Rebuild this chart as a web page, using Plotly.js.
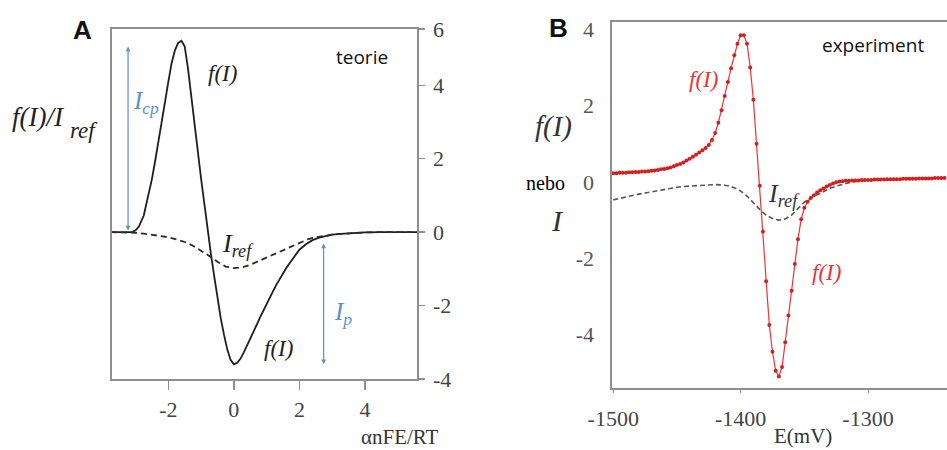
<!DOCTYPE html>
<html>
<head>
<meta charset="utf-8">
<script src="https://cdn.plot.ly/plotly-3.0.1.min.js"></script>
<style>html,body{margin:0;padding:0;background:#fff;overflow:hidden}#chart{width:947px;height:450px}</style>
</head>
<body>
<div id="chart"></div>
<script>
// ---------- Panel A (teorie) ----------
var xA = [-3.75,-3.5,-3.25,-3.1,-3.0,-2.9,-2.75,-2.65,-2.5,-2.4,-2.25,-2.1,-2.0,-1.9,-1.8,-1.7,-1.6,-1.5,-1.4,-1.3,-1.2,-1.1,-1.0,-0.9,-0.8,-0.7,-0.6,-0.5,-0.4,-0.3,-0.2,-0.1,0,0.1,0.2,0.3,0.4,0.5,0.6,0.7,0.8,0.9,1.0,1.1,1.2,1.3,1.4,1.5,1.6,1.7,1.8,1.9,2.0,2.2,2.4,2.6,2.8,3.0,3.25,3.5,3.75,4.0,4.5,5.0,5.75];
var fA = [0,0,0,0,0.05,0.15,0.45,0.85,1.45,1.95,2.7,3.55,4.1,4.6,4.95,5.15,5.21,5.05,4.45,3.65,2.9,2.2,1.45,0.72,0.0,-0.6,-1.2,-1.8,-2.35,-2.8,-3.2,-3.48,-3.6,-3.56,-3.45,-3.28,-3.1,-2.92,-2.72,-2.52,-2.32,-2.13,-1.95,-1.78,-1.6,-1.43,-1.27,-1.12,-0.98,-0.85,-0.72,-0.6,-0.48,-0.33,-0.22,-0.15,-0.1,-0.07,-0.05,-0.03,-0.02,-0.01,0,0,0];
var xRefA = [-3.75,-3.5,-3.25,-3.0,-2.75,-2.5,-2.25,-2.0,-1.75,-1.5,-1.25,-1.0,-0.75,-0.5,-0.25,0,0.25,0.5,0.75,1.0,1.25,1.5,1.75,2.0,2.25,2.5,2.75,3.0,3.25,3.5,3.75,4.0,4.5,5.0,5.75];
var iRefA = [0,0,-0.01,-0.02,-0.04,-0.07,-0.1,-0.14,-0.2,-0.27,-0.37,-0.5,-0.65,-0.81,-0.94,-0.98,-0.96,-0.89,-0.79,-0.69,-0.59,-0.49,-0.38,-0.28,-0.2,-0.14,-0.1,-0.07,-0.05,-0.03,-0.02,-0.01,0,0,0];
var xTickValsA = [-2,0,2,4];
var xTickTextA = ['-2','0','2','4'];
var yTickValsA = [-4,-2,0,2,4,5.53];
var yTickTextA = ['-4','-2','0','2','4','6'];
var icpX = -3.23, ipX = 2.74, ipTop = -0.27;

// ---------- Panel B (experiment) ----------
var eB = [-1500,-1497.5,-1495,-1492.5,-1490,-1487.5,-1485,-1482.5,-1480,-1477.5,-1475,-1472.5,-1470,-1467.5,-1465,-1462.5,-1460,-1457.5,-1455,-1452.5,-1450,-1447.5,-1445,-1442.5,-1440,-1437.5,-1435,-1432.5,-1430,-1427.5,-1425,-1422.5,-1420,-1417.5,-1415,-1412.5,-1410,-1407.5,-1405,-1402.5,-1400,-1397.5,-1395,-1392.5,-1390,-1387.5,-1385,-1382.5,-1380,-1377.5,-1375,-1372.5,-1370,-1367.5,-1365,-1362.5,-1360,-1357.5,-1355,-1352.5,-1350,-1347.5,-1345,-1342.5,-1340,-1337.5,-1335,-1332.5,-1330,-1327.5,-1325,-1322.5,-1320,-1317.5,-1315,-1312.5,-1310,-1307.5,-1305,-1302.5,-1300,-1297.5,-1295,-1292.5,-1290,-1287.5,-1285,-1282.5,-1280,-1277.5,-1275,-1272.5,-1270,-1267.5,-1265,-1262.5,-1260,-1257.5,-1255,-1252.5,-1250,-1247.5,-1245,-1242.5,-1240];
var fB = [0.23,0.23,0.24,0.24,0.24,0.25,0.25,0.26,0.26,0.27,0.27,0.28,0.29,0.30,0.31,0.33,0.34,0.36,0.38,0.41,0.44,0.47,0.51,0.56,0.61,0.66,0.71,0.77,0.83,0.89,0.97,1.1,1.28,1.55,1.88,2.25,2.62,2.98,3.32,3.62,3.84,3.84,3.62,3.0,2.15,1.0,-0.1,-1.3,-2.6,-3.75,-4.45,-4.95,-5.1,-4.85,-4.2,-3.5,-2.85,-2.15,-1.5,-0.98,-0.68,-0.52,-0.42,-0.35,-0.28,-0.22,-0.17,-0.12,-0.08,-0.04,-0.01,0.01,0.02,0.03,0.03,0.04,0.04,0.04,0.05,0.05,0.05,0.05,0.06,0.06,0.06,0.06,0.07,0.07,0.07,0.07,0.07,0.08,0.08,0.08,0.08,0.08,0.09,0.09,0.09,0.09,0.09,0.1,0.1,0.1,0.1];
var eRefB = [-1500,-1495,-1490,-1485,-1480,-1475,-1470,-1465,-1460,-1455,-1450,-1445,-1440,-1435,-1430,-1425,-1420,-1415,-1410,-1405,-1400,-1395,-1390,-1385,-1380,-1375,-1370,-1365,-1360,-1355,-1350,-1345,-1340,-1335,-1330,-1325,-1320,-1315,-1310,-1305,-1300,-1290,-1280];
var iRefB = [-0.47,-0.43,-0.39,-0.35,-0.32,-0.29,-0.26,-0.22,-0.19,-0.16,-0.14,-0.12,-0.11,-0.10,-0.09,-0.08,-0.07,-0.08,-0.1,-0.15,-0.24,-0.37,-0.55,-0.72,-0.87,-0.96,-1.0,-0.97,-0.87,-0.7,-0.53,-0.42,-0.33,-0.25,-0.17,-0.11,-0.06,-0.02,0.01,0.03,0.04,0.05,0.05];
var xTickValsB = [-1500,-1400,-1300];
var xTickTextB = ['-1500','-1400','-1300'];
var yTickValsB = [-4,-2,0,2,4];
var yTickTextB = ['-4','-2','0','2','4'];

var W = 947, H = 450;
function px(x){return x/W;}
function py(y){return 1-y/H;}
var serif = 'Liberation Serif';
var sans = 'Open Sans';
var bold = 'Liberation Sans';
var red = 'rgb(236,52,52)';
var blue = '#5b8fd2';
var axCol = '#8f8f8f';

var traces = [
  {x:xA, y:fA, xaxis:'x', yaxis:'y', mode:'lines', line:{color:'#1e1e1e', width:1.8}, hoverinfo:'skip'},
  {x:xRefA, y:iRefA, xaxis:'x', yaxis:'y', mode:'lines', line:{color:'#2a2a2a', width:1.8, dash:'6px,4px'}, hoverinfo:'skip'},
  {x:eRefB, y:iRefB, xaxis:'x2', yaxis:'y2', mode:'lines', line:{color:'#555', width:1.6, dash:'5px,3px'}, hoverinfo:'skip'},
  {x:eB, y:fB, xaxis:'x2', yaxis:'y2', mode:'lines+markers', line:{color:red, width:1.2}, marker:{color:'rgb(215,30,30)', size:4}, hoverinfo:'skip'}
];

function lab(x,y,text,size,color,family,anchor){
  return {xref:'paper', yref:'paper', x:px(x), y:py(y), text:text, showarrow:false,
    xanchor:anchor||'center', yanchor:'middle', font:{size:size, color:color, family:family}};
}
var fmax = Math.max.apply(null, fA), fmin = Math.min.apply(null, fA);
var annotations = [
  lab(82,30,'<b>A</b>',26,'#111',bold),
  lab(362,57,'teorie',19,'#111',sans),
  lab(10,117,'<i>f(I)/I</i>',27,'#222',serif,'left'),
  lab(68,130,'<i>ref</i>',23,'#222',serif,'left'),
  lab(222,73,'<i>f(I)</i>',23,'#222',serif),
  lab(238,245,'<i>I<sub>ref</sub></i>',26,'#222',serif),
  lab(278,348,'<i>f(I)</i>',23,'#222',serif),
  lab(146,102,'<i>I<sub>cp</sub></i>',25,blue,serif),
  lab(343,313,'<i>I<sub>p</sub></i>',25,blue,serif),
  lab(400,437,'\u03B1nFE/RT',21,'#333',serif),
  {xref:'x', yref:'y', axref:'x', ayref:'y', x:icpX, y:fmax*0.97, ax:icpX, ay:0, text:'', showarrow:true,
    arrowhead:2, startarrowhead:2, arrowside:'end+start', arrowsize:0.8, startarrowsize:0.8, arrowwidth:1.2, arrowcolor:blue, standoff:0, startstandoff:0},
  {xref:'x', yref:'y', axref:'x', ayref:'y', x:ipX, y:fmin, ax:ipX, ay:ipTop, text:'', showarrow:true,
    arrowhead:2, startarrowhead:2, arrowside:'end+start', arrowsize:0.8, startarrowsize:0.8, arrowwidth:1.2, arrowcolor:blue, standoff:0, startstandoff:0},

  lab(558,28,'<b>B</b>',26,'#111',bold),
  lab(873,45,'experiment',19,'#111',sans),
  lab(553,126,'<i>f(I)</i>',29,'#333',serif),
  lab(545,183,'nebo',20,'#000',serif),
  lab(557,221,'<i>I</i>',30,'#333',serif),
  lab(703,79,'<i>f(I)</i>',23,red,serif),
  lab(784,195,'<i>I<sub>ref</sub></i>',26,'#333',serif),
  lab(826,272,'<i>f(I)</i>',23,red,serif),
  lab(803,436,'E(mV)',21,'#333',serif)
];

var layout = {
  width:W, height:H, margin:{l:0,r:0,t:0,b:0},
  paper_bgcolor:'#fff', plot_bgcolor:'#fff', showlegend:false,
  xaxis:{domain:[px(112),px(417)], range:[-3.72,5.59], anchor:'y', tickvals:xTickValsA, ticktext:xTickTextA,
    ticks:'outside', ticklen:9, tickwidth:1.3, tickcolor:axCol, showline:true, linecolor:axCol, linewidth:1.6, mirror:true,
    showgrid:false, zeroline:false, tickfont:{family:serif, size:22, color:'#444'}, ticklabelstandoff:1},
  yaxis:{domain:[py(379),py(29)], range:[-4.0,5.53], anchor:'x', side:'right', tickvals:yTickValsA, ticktext:yTickTextA,
    ticks:'outside', ticklen:6, tickwidth:1.3, tickcolor:axCol, showline:true, linecolor:axCol, linewidth:1.6, mirror:true,
    showgrid:false, zeroline:false, tickfont:{family:serif, size:22, color:'#444'}, ticklabelstandoff:4},
  xaxis2:{domain:[px(612),1], range:[-1501,-1238], anchor:'y2', tickvals:xTickValsB, ticktext:xTickTextB,
    ticks:'outside', ticklen:3, tickcolor:axCol, showline:true, linecolor:axCol, linewidth:1.6, mirror:true,
    showgrid:false, zeroline:false, tickfont:{family:serif, size:22, color:'#444'}, ticklabelstandoff:7},
  yaxis2:{domain:[py(388),py(22)], range:[-5.40,4.19], anchor:'x2', side:'left', tickvals:yTickValsB, ticktext:yTickTextB,
    ticks:'', showline:true, linecolor:axCol, linewidth:1.6, mirror:false,
    showgrid:false, zeroline:false, tickfont:{family:serif, size:22, color:'#555'}, ticklabelstandoff:12},
  annotations:annotations
};

Plotly.newPlot('chart', traces, layout, {staticPlot:true, displayModeBar:false});
</script>
</body>
</html>
